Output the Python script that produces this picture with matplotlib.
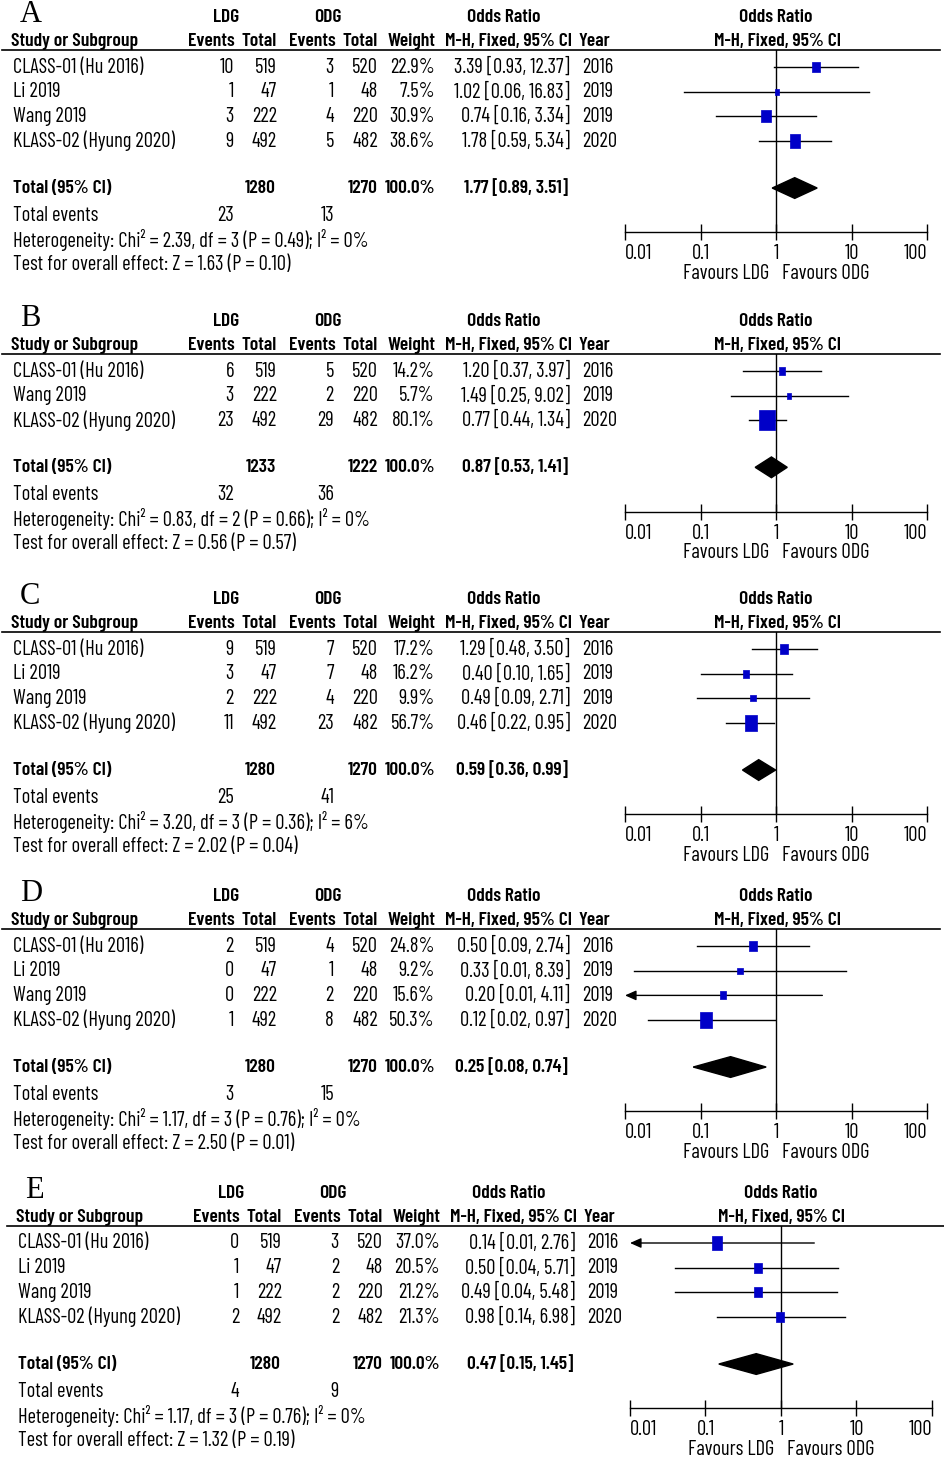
import numpy as np
import matplotlib
matplotlib.use("Agg")
import matplotlib.pyplot as plt

plt.rcParams['font.family'] = ['Barlow Condensed', 'DejaVu Sans']
plt.rcParams['font.stretch'] = 'condensed'

# ---- data ----
panels = ["A", "B", "C", "D", "E"]
all4 = ["CLASS-01 (Hu 2016)", "Li 2019", "Wang 2019", "KLASS-02 (Hyung 2020)"]
no_li = ["CLASS-01 (Hu 2016)", "Wang 2019", "KLASS-02 (Hyung 2020)"]
studies = [all4, no_li, all4, all4, all4]
years = [[2016, 2019, 2019, 2020], [2016, 2019, 2020],
         [2016, 2019, 2019, 2020], [2016, 2019, 2019, 2020], [2016, 2019, 2019, 2020]]

ldg_events = [[10, 1, 3, 9], [6, 3, 23], [9, 3, 2, 11], [2, 0, 0, 1], [0, 1, 1, 2]]
ldg_totals = [[519, 47, 222, 492], [519, 222, 492], [519, 47, 222, 492],
              [519, 47, 222, 492], [519, 47, 222, 492]]
odg_events = [[3, 1, 4, 5], [5, 2, 29], [7, 7, 4, 23], [4, 1, 2, 8], [3, 2, 2, 2]]
odg_totals = [[520, 48, 220, 482], [520, 220, 482], [520, 48, 220, 482],
              [520, 48, 220, 482], [520, 48, 220, 482]]
weights = [[22.9, 7.5, 30.9, 38.6], [14.2, 5.7, 80.1], [17.2, 16.2, 9.9, 56.7],
           [24.8, 9.2, 15.6, 50.3], [37.0, 20.5, 21.2, 21.3]]
odds = [[3.39, 1.02, 0.74, 1.78], [1.20, 1.49, 0.77], [1.29, 0.40, 0.49, 0.46],
        [0.50, 0.33, 0.20, 0.12], [0.14, 0.50, 0.49, 0.98]]
ci_low = [[0.93, 0.06, 0.16, 0.59], [0.37, 0.25, 0.44], [0.48, 0.10, 0.09, 0.22],
          [0.09, 0.013, 0.009, 0.02], [0.009, 0.04, 0.04, 0.14]]
ci_high = [[12.37, 16.83, 3.34, 5.34], [3.97, 9.02, 1.34], [3.50, 1.65, 2.71, 0.95],
           [2.74, 8.39, 4.11, 0.97], [2.76, 5.71, 5.48, 6.98]]

pooled = [1.77, 0.87, 0.59, 0.25, 0.47]
pooled_low = [0.89, 0.53, 0.36, 0.08, 0.15]
pooled_high = [3.51, 1.41, 0.99, 0.74, 1.45]
total_ldg = [1280, 1233, 1280, 1280, 1280]
total_odg = [1270, 1222, 1270, 1270, 1270]
events_ldg = [23, 32, 25, 3, 4]
events_odg = [13, 36, 41, 15, 9]
chi2 = [2.39, 0.83, 3.20, 1.17, 1.17]
dfs = [3, 2, 3, 3, 3]
p_het = [0.49, 0.66, 0.36, 0.76, 0.76]
i2 = [0, 0, 6, 0, 0]
z_vals = [1.63, 0.56, 2.02, 2.50, 1.32]
p_z = [0.10, 0.57, 0.04, 0.01, 0.19]

# ---- layout (pixels) ----
W, H = 945, 1458
row0 = [67, 371, 649, 946, 1243]
dxs = [0, 0, 0, 0, 5]
rh = 24.7
blue = '#0000c8'

fig = plt.figure(figsize=(W / 100, H / 100), dpi=100)
ax0 = fig.add_axes([0, 0, 1, 1])
ax0.set_xlim(0, W)
ax0.set_ylim(H, 0)
ax0.axis('off')

# size the font so that a study name is as wide as in the picture (~130 px)
renderer = fig.canvas.get_renderer()
probe = ax0.text(0, 0, "CLASS-01 (Hu 2016)", fontsize=20)
fs = 20 * 130 / probe.get_window_extent(renderer).width
probe.remove()
fsb = fs * 0.95
plt.rcParams['font.size'] = fs


def t(x, y, s, ha='left', bold=False, **kw):
    size = kw.pop('fontsize', fsb if bold else fs)
    ax0.text(x, y, s, ha=ha, va='center', fontweight='semibold' if bold else 'normal',
             fontsize=size, **kw)


box = [(-0.78, -1), (0.78, -1), (0.78, 1), (-0.78, 1), (-0.78, -1)]

for k, letter in enumerate(panels):
    y0 = row0[k]
    dx = dxs[k]
    n = len(studies[k])

    # header
    t(20 + dx, y0 - 53, letter, family='Liberation Serif', fontsize=22)
    t(226 + dx, y0 - 50, "LDG", ha='center', bold=True)
    t(328 + dx, y0 - 50, "ODG", ha='center', bold=True)
    t(504 + dx, y0 - 50, "Odds Ratio", ha='center', bold=True)
    t(776 + dx, y0 - 50, "Odds Ratio", ha='center', bold=True)
    hy = y0 - 26
    t(11 + dx, hy, "Study or Subgroup", bold=True)
    t(235 + dx, hy, "Events", ha='right', bold=True)
    t(277 + dx, hy, "Total", ha='right', bold=True)
    t(336 + dx, hy, "Events", ha='right', bold=True)
    t(378 + dx, hy, "Total", ha='right', bold=True)
    t(435 + dx, hy, "Weight", ha='right', bold=True)
    t(572 + dx, hy, "M-H, Fixed, 95% CI", ha='right', bold=True)
    t(578 + dx, hy, "Year", bold=True)
    t(777 + dx, hy, "M-H, Fixed, 95% CI", ha='center', bold=True)
    ax0.plot([2 + dx, 940 + dx], [y0 - 17, y0 - 17], color='k', lw=1.2)

    # study rows
    for i in range(n):
        y = y0 + i * rh
        t(13 + dx, y, studies[k][i])
        t(234 + dx, y, str(ldg_events[k][i]), ha='right')
        t(277 + dx, y, str(ldg_totals[k][i]), ha='right')
        t(334 + dx, y, str(odg_events[k][i]), ha='right')
        t(378 + dx, y, str(odg_totals[k][i]), ha='right')
        t(435 + dx, y, f"{weights[k][i]:.1f}%", ha='right')
        t(570 + dx, y, f"{odds[k][i]:.2f} [{ci_low[k][i]:.2f}, {ci_high[k][i]:.2f}]", ha='right')
        t(582 + dx, y, str(years[k][i]))

    yt = y0 + (n + 0.9) * rh
    t(13 + dx, yt, "Total (95% CI)", bold=True)
    t(276 + dx, yt, str(total_ldg[k]), ha='right', bold=True)
    t(378 + dx, yt, str(total_odg[k]), ha='right', bold=True)
    t(435 + dx, yt, "100.0%", ha='right', bold=True)
    t(568 + dx, yt, f"{pooled[k]:.2f} [{pooled_low[k]:.2f}, {pooled_high[k]:.2f}]", ha='right', bold=True)
    ye = y0 + (n + 2) * rh
    t(13 + dx, ye, "Total events")
    t(234 + dx, ye, str(events_ldg[k]), ha='right')
    t(334 + dx, ye, str(events_odg[k]), ha='right')
    t(13 + dx, y0 + (n + 3) * rh,
      f"Heterogeneity: Chi\u00b2 = {chi2[k]:.2f}, df = {dfs[k]} (P = {p_het[k]:.2f}); I\u00b2 = {i2[k]}%")
    t(13 + dx, y0 + (n + 4) * rh,
      f"Test for overall effect: Z = {z_vals[k]:.2f} (P = {p_z[k]:.2f})")

    # forest axes
    top_px = y0 - 17
    bot_px = y0 + (n + 2.7) * rh
    ax = fig.add_axes([(625 + dx) / W, 1 - bot_px / H, 302 / W, (bot_px - top_px) / H])
    ax.set_facecolor('none')
    ax.set_xscale('log')
    ax.set_xlim(0.01, 100)
    ax.set_ylim(n + 2.7, -17 / rh)
    for s in ['left', 'right', 'top']:
        ax.spines[s].set_visible(False)
    ax.spines['bottom'].set_linewidth(1)
    ax.set_yticks([])
    ax.set_xticks([0.01, 0.1, 1, 10, 100])
    labels = ax.set_xticklabels(["0.01", "0.1", "1", "10", "100"])
    labels[0].set_ha('left')
    labels[-1].set_ha('right')
    ax.minorticks_off()
    ax.tick_params(axis='x', direction='inout', length=11, width=1, pad=3, labelsize=fs)
    ax.axvline(1, color='k', lw=1)

    for i in range(n):
        lo = max(ci_low[k][i], 0.01)
        hi = min(ci_high[k][i], 100)
        if ci_low[k][i] < 0.01:
            ax.annotate('', xy=(0.01, i), xytext=(hi, i),
                        arrowprops=dict(arrowstyle='-|>,head_length=0.45,head_width=0.2',
                                        color='k', lw=1, shrinkA=0, shrinkB=0))
        else:
            ax.plot([lo, hi], [i, i], color='k', lw=1)
        ax.plot(odds[k][i], i, marker=box, ms=2.2 * np.sqrt(weights[k][i]) * 0.72,
                color=blue, mec=blue, mew=0.5, zorder=3)

    ax.fill([pooled_low[k], pooled[k], pooled_high[k], pooled[k]],
            [n + 0.9, n + 0.9 - 0.42, n + 0.9, n + 0.9 + 0.42], color='k', zorder=3)

    ax.annotate("Favours LDG", xy=(1, 0), xycoords=('data', 'axes fraction'),
                xytext=(-5, -29.5), textcoords='offset points', ha='right', va='center', fontsize=fs)
    ax.annotate("Favours ODG", xy=(1, 0), xycoords=('data', 'axes fraction'),
                xytext=(4, -29.5), textcoords='offset points', ha='left', va='center', fontsize=fs)

fig.savefig("out.png", dpi=100)
